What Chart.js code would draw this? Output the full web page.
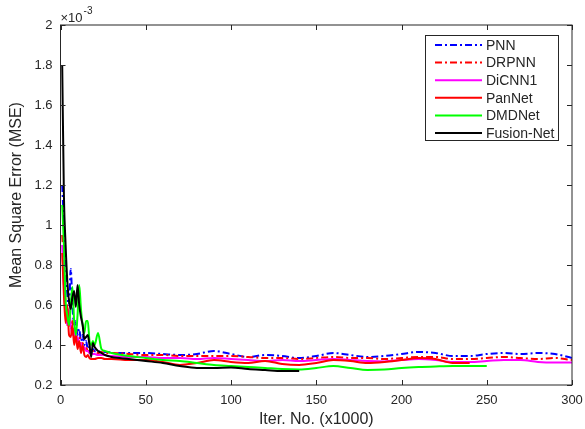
<!DOCTYPE html>
<html>
<head>
<meta charset="utf-8">
<script src="https://cdn.jsdelivr.net/npm/chart.js@4.4.1/dist/chart.umd.min.js"></script>
<style>
  body { margin: 0; background: #fff; }
  #wrap { width: 585px; height: 429px; }
</style>
</head>
<body>
<div id="wrap"><canvas id="mseChart" width="585" height="429"></canvas></div>
<script>
// iterations (x1000), denser at the start where the curves jump around
const iters = [1,2,3,4,5,6,7,8,9,10,11,12,13,14,15,16,17,18,19,20,22,24,26,28,30,
  40,50,60,70,80,90,100,110,120,130,140,150,160,170,180,190,200,210,220,230,240,250,260,270,280,290,300];

// MSE values in units of 1e-3
const pnn = [1.20,1.00,0.80,0.65,0.60,0.78,0.60,0.50,0.52,0.45,0.48,0.42,0.45,0.40,0.42,0.38,0.39,0.37,0.38,0.37,0.365,0.37,0.365,0.365,0.36,
  0.36,0.36,0.355,0.35,0.355,0.37,0.355,0.34,0.35,0.345,0.335,0.345,0.36,0.35,0.34,0.345,0.355,0.365,0.36,0.345,0.345,0.355,0.36,0.355,0.36,0.355,0.335];
const drpnn = [0.95,0.80,0.60,0.50,0.55,0.48,0.52,0.45,0.48,0.42,0.44,0.40,0.41,0.38,0.39,0.37,0.37,0.36,0.37,0.365,0.36,0.365,0.36,0.36,0.36,
  0.355,0.35,0.35,0.345,0.345,0.345,0.345,0.34,0.335,0.335,0.33,0.335,0.34,0.335,0.335,0.33,0.335,0.34,0.34,0.33,0.33,0.335,0.34,0.335,0.33,0.335,0.325];
const dicnn1 = [0.90,0.70,0.56,0.50,0.58,0.50,0.45,0.48,0.42,0.44,0.40,0.41,0.38,0.39,0.37,0.37,0.36,0.36,0.355,0.355,0.35,0.35,0.35,0.345,0.345,
  0.34,0.34,0.335,0.335,0.33,0.335,0.33,0.325,0.32,0.325,0.32,0.325,0.33,0.325,0.32,0.318,0.325,0.33,0.325,0.315,0.315,0.32,0.325,0.325,0.315,0.312,0.312];
const pannet = [0.86,0.65,0.51,0.60,0.45,0.44,0.50,0.40,0.45,0.38,0.42,0.36,0.40,0.35,0.34,0.35,0.335,0.33,0.33,0.33,0.335,0.335,0.33,0.33,0.33,
  0.325,0.325,0.315,0.30,0.31,0.325,0.315,0.31,0.32,0.305,0.30,0.31,0.325,0.32,0.31,0.315,0.325,0.335,0.33,0.31,0.31,null,null,null,null,null,null];
const dmdnet = [1.10,0.90,0.62,0.55,0.50,0.60,0.69,0.52,0.45,0.55,0.70,0.58,0.50,0.46,0.52,0.52,0.42,0.40,0.42,0.40,0.46,0.38,0.37,0.365,0.36,
  0.345,0.335,0.325,0.32,0.31,0.30,0.295,0.29,0.285,0.28,0.278,0.285,0.295,0.285,0.275,0.277,0.285,0.29,0.293,0.295,0.295,0.295,null,null,null,null,null];
const fusionNet = [1.80,1.15,0.90,0.72,0.62,0.58,0.64,0.67,0.59,0.70,0.60,0.54,0.50,0.43,0.44,0.45,0.40,0.34,0.41,0.39,0.37,0.36,0.35,0.345,0.34,
  0.33,0.32,0.31,0.295,0.285,0.285,0.288,0.28,0.275,0.27,0.27,null,null,null,null,null,null,null,null,null,null,null,null,null,null,null,null];

const xTicks = [0,50,100,150,200,250,300];
const yTicks = [0.2,0.4,0.6,0.8,1,1.2,1.4,1.6,1.8,2];

const axisColor = '#262626';
const fontFamily = "'Liberation Sans', Arial, Helvetica, sans-serif";
const dashDot = [7,3,2,3];

function makeSeries(label, values, color, dash, order){
  return {
    label: label,
    data: iters.map((x, i) => ({x: x, y: values[i]})),
    borderColor: color,
    borderWidth: 2,
    borderDash: dash,
    pointRadius: 0,
    fill: false,
    cubicInterpolationMode: 'monotone',
    order: order
  };
}

//------------------ axes box, inward ticks, legend ---------------------

const matlabBox = {
  id: 'matlabBox',
  afterDatasetsDraw(chart){
    const ctx = chart.ctx;
    const a = chart.chartArea;
    const xs = chart.scales.x;
    const ys = chart.scales.y;
    ctx.save();
    ctx.strokeStyle = axisColor;
    ctx.lineWidth = 1;
    ctx.setLineDash([]);
    ctx.strokeRect(a.left, a.top, a.right - a.left, a.bottom - a.top);

    ctx.beginPath();
    xs.ticks.forEach(t => {
      let px = Math.round(xs.getPixelForValue(t.value)) + 0.5;
      ctx.moveTo(px, a.bottom); ctx.lineTo(px, a.bottom - 5);
      ctx.moveTo(px, a.top); ctx.lineTo(px, a.top + 5);
    });
    ys.ticks.forEach(t => {
      let py = Math.round(ys.getPixelForValue(t.value)) + 0.5;
      ctx.moveTo(a.left, py); ctx.lineTo(a.left + 5, py);
      ctx.moveTo(a.right, py); ctx.lineTo(a.right - 5, py);
    });
    ctx.stroke();

    // exponent above the y axis
    ctx.fillStyle = axisColor;
    ctx.textBaseline = 'alphabetic';
    ctx.textAlign = 'left';
    ctx.font = '13px ' + fontFamily;
    ctx.fillText('\u00d710', a.left, a.top - 3);
    let w = ctx.measureText('\u00d710').width;
    ctx.font = '10px ' + fontFamily;
    ctx.fillText('-3', a.left + w + 1, a.top - 11);

    // y title
    ctx.save();
    ctx.translate(17, 195);
    ctx.rotate(-Math.PI / 2);
    ctx.font = '16px ' + fontFamily;
    ctx.textAlign = 'center';
    ctx.textBaseline = 'middle';
    ctx.fillText('Mean Square Error (MSE)', 0, 0);
    ctx.restore();

    // legend
    const boxLeft = Math.round(a.right - 147);
    const boxTop = a.top + 10;
    const rowH = 17.6;
    const sets = chart.data.datasets;
    ctx.fillStyle = '#fff';
    ctx.fillRect(boxLeft, boxTop, 133, 105);
    ctx.strokeRect(boxLeft + 0.5, boxTop + 0.5, 133, 105);
    ctx.font = '14px ' + fontFamily;
    ctx.textBaseline = 'middle';
    ctx.textAlign = 'left';
    sets.forEach((ds, i) => {
      let y = boxTop + 10 + i * rowH;
      ctx.strokeStyle = ds.borderColor;
      ctx.lineWidth = 2;
      ctx.setLineDash(ds.borderDash || []);
      ctx.beginPath();
      ctx.moveTo(boxLeft + 10, y);
      ctx.lineTo(boxLeft + 57, y);
      ctx.stroke();
      ctx.setLineDash([]);
      ctx.fillStyle = axisColor;
      ctx.fillText(ds.label, boxLeft + 61, y + 1);
    });
    ctx.restore();
  }
};

function createChart(){
  let el = document.getElementById('mseChart').getContext('2d');
  new Chart(el, {
    type: 'line',
    data: {
      datasets: [
        makeSeries('PNN', pnn, '#0000ff', dashDot, 6),
        makeSeries('DRPNN', drpnn, '#ff0000', dashDot, 5),
        makeSeries('DiCNN1', dicnn1, '#ff00ff', [], 4),
        makeSeries('PanNet', pannet, '#ff0000', [], 3),
        makeSeries('DMDNet', dmdnet, '#00ff00', [], 2),
        makeSeries('Fusion-Net', fusionNet, '#000000', [], 1)
      ]
    },
    options: {
      responsive: false,
      animation: false,
      spanGaps: false,
      layout: { padding: { top: 25, right: 13, left: 0, bottom: 0 } },
      plugins: { legend: { display: false }, tooltip: { enabled: false } },
      scales: {
        x: {
          type: 'linear',
          min: 0,
          max: 300,
          afterFit(s){ s.height = 44; s.paddingLeft = 0; s.paddingRight = 0; },
          afterBuildTicks(s){ s.ticks = xTicks.map(v => ({value: v})); },
          grid: { display: false, drawTicks: false },
          border: { display: false },
          ticks: { color: axisColor, padding: 8, maxRotation: 0, font: { size: 13, family: fontFamily } },
          title: { display: true, text: 'Iter. No. (x1000)', color: axisColor, padding: { top: 0, bottom: 0 }, font: { size: 16, family: fontFamily } }
        },
        y: {
          type: 'linear',
          min: 0.2,
          max: 2,
          afterFit(s){ s.width = 60.5; s.paddingTop = 0; s.paddingBottom = 0; },
          afterBuildTicks(s){ s.ticks = yTicks.map(v => ({value: v})); },
          grid: { display: false, drawTicks: false },
          border: { display: false },
          ticks: { color: axisColor, padding: 8, font: { size: 13, family: fontFamily },
            callback: v => String(+v.toFixed(1)) }
        }
      }
    },
    plugins: [matlabBox]
  });
}

createChart();
</script>
</body>
</html>
